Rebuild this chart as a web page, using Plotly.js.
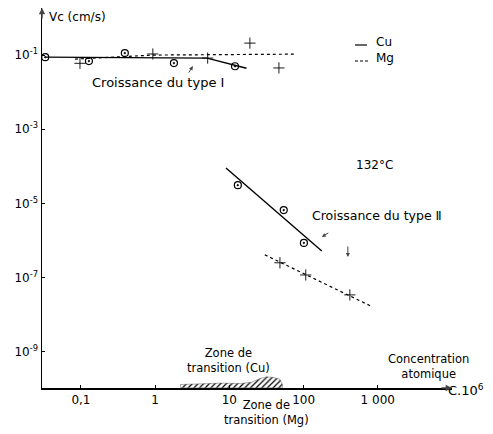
<!DOCTYPE html>
<html>
<head>
<meta charset="utf-8">
<script src="https://cdn.plot.ly/plotly-3.0.1.min.js"></script>
<style>html,body{margin:0;padding:0;background:#fff;}#chart{width:493px;height:434px;}</style>
</head>
<body>
<div id="chart"></div>
<script>
// ---- data ----
// Type I growth, Cu
const cu1X = [0.033, 0.128, 0.39, 1.79, 11.9];
const cu1Y = [0.088, 0.069, 0.113, 0.061, 0.05];
const cu1LineX = [0.033, 5.0, 17];
const cu1LineY = [0.088, 0.083, 0.044];
// Type I growth, Mg
const mg1X = [0.097, 0.93, 5.1, 18.9, 46.5];
const mg1Y = [0.06, 0.107, 0.083, 0.21, 0.045];
const mg1LineX = [0.083, 0.93, 76];
const mg1LineY = [0.078, 0.1, 0.106];
// Type II growth, Cu
const cu2X = [13, 54, 101];
const cu2Y = [3.1e-5, 6.6e-6, 8.6e-7];
const cu2LineX = [9, 176];
const cu2LineY = [9e-5, 5.2e-7];
// Type II growth, Mg
const mg2X = [48, 107, 420];
const mg2Y = [2.5e-7, 1.17e-7, 3.4e-8];
const mg2LineX = [30, 805];
const mg2LineY = [4.1e-7, 1.7e-8];
// Transition zone (Cu) outline
const zoneCuX = [2.2, 4, 8, 14, 20, 26, 32, 40, 48, 52, 52, 2.2, 2.2];
const zoneCuY = [1.3e-10, 1.38e-10, 1.42e-10, 1.38e-10, 1.5e-10, 1.9e-10, 2.1e-10, 2.0e-10, 1.8e-10, 1.3e-10, 1.06e-10, 1.06e-10, 1.3e-10];
// Transition zone (Mg) specks below the axis
const zoneMgX = [26, 28, 31, 55, 62, 70, 85];
const zoneMgY = [8.4e-11, 7.8e-11, 8.2e-11, 8.3e-11, 7.9e-11, 8.4e-11, 8.1e-11];
// tick labels
const xTickVals = [0.1, 1, 10, 100, 1000];
const xTickText = ['0,1', '1', '10', '100', '1 000'];
const yTickVals = [1e-1, 1e-3, 1e-5, 1e-7, 1e-9];
const yTickText = ['10<sup>-1</sup>', '10<sup>-3</sup>', '10<sup>-5</sup>', '10<sup>-7</sup>', '10<sup>-9</sup>'];

const FONT = 'DejaVu Sans, sans-serif';
const solid = {color: 'black', width: 1.4};
const dashed = {color: 'black', width: 1.2, dash: '3px,3px'};
const circ = {symbol: 'circle-open-dot', size: 7, color: 'black', line: {color: 'black', width: 1.2}};
const crs = {symbol: 'cross-thin-open', size: 8, color: 'black', line: {color: 'black', width: 0.9}};

const traces = [
  {x: zoneCuX, y: zoneCuY, mode: 'lines', fill: 'toself', line: {width: 0.4, color: '#444'},
   fillcolor: 'rgba(0,0,0,0)', fillpattern: {shape: '/', size: 4, solidity: 0.3, fgcolor: 'black', bgcolor: 'white'}},
  {x: zoneMgX, y: zoneMgY, mode: 'markers', cliponaxis: false, marker: {size: 2, color: 'black'}},
  {x: cu1LineX, y: cu1LineY, mode: 'lines', line: solid},
  {x: mg1LineX, y: mg1LineY, mode: 'lines', line: dashed},
  {x: cu1X, y: cu1Y, mode: 'markers', marker: circ, cliponaxis: false},
  {x: mg1X, y: mg1Y, mode: 'markers', marker: crs},
  {x: cu2LineX, y: cu2LineY, mode: 'lines', line: solid},
  {x: mg2LineX, y: mg2LineY, mode: 'lines', line: dashed},
  {x: cu2X, y: cu2Y, mode: 'markers', marker: circ},
  {x: mg2X, y: mg2Y, mode: 'markers', marker: crs}
];

function txt(x, y, text, size, extra) {
  return Object.assign({xref: 'paper', yref: 'paper', x: x, y: y, text: text, showarrow: false,
    xanchor: 'center', yanchor: 'middle',
    font: {family: FONT, size: size || 12, color: 'black'}}, extra || {});
}
// paper coordinate helpers from pixel positions (plot area: x 42..452, y 8..388)
const px = v => (v - 42) / 410;
const py = v => (388 - v) / 380;

const annotations = [
  txt(px(47), py(17), 'Vc (cm/s)', 12, {xanchor: 'left'}),
  txt(px(374), py(42), 'Cu', 12, {xanchor: 'left'}),
  txt(px(374), py(58), 'Mg', 12, {xanchor: 'left'}),
  txt(px(158), py(82), 'Croissance du type Ⅰ', 13),
  txt(px(374), py(165), '132°C', 12),
  txt(px(377), py(215), 'Croissance du type Ⅱ', 12.5),
  txt(px(228), py(360), 'Zone de<br>transition (Cu)', 11.5),
  txt(px(266), py(412), 'Zone de<br>transition (Mg)', 11.5),
  txt(px(428), py(366), 'Concentration<br>atomique', 11.5),
  txt(px(446), py(390), 'C.10<sup>6</sup>', 13, {xanchor: 'left'}),
  // small arrows
  {x: Math.log10(3.22), y: Math.log10(0.0506), ax: -5, ay: 8, showarrow: true, arrowhead: 2, arrowsize: 0.8, arrowwidth: 1, standoff: 0, text: ''},
  {x: Math.log10(176), y: Math.log10(1.24e-6), ax: 8, ay: -5, showarrow: true, arrowhead: 2, arrowsize: 0.8, arrowwidth: 1, standoff: 0, text: ''},
  {x: Math.log10(395), y: Math.log10(3.59e-7), ax: 0, ay: -12, showarrow: true, arrowhead: 2, arrowsize: 0.8, arrowwidth: 1, standoff: 0, text: ''},
  // axis arrows
  {xref: 'paper', yref: 'paper', x: 0, y: 1, ax: 0, ay: 12, showarrow: true, arrowhead: 2, arrowsize: 0.9, arrowwidth: 1.4, standoff: 0, text: ''},
  {xref: 'paper', yref: 'paper', x: 1, y: 0, ax: -12, ay: 0, showarrow: true, arrowhead: 2, arrowsize: 0.9, arrowwidth: 1.4, standoff: 0, text: ''}
];

const shapes = [
  {type: 'line', xref: 'paper', yref: 'paper', x0: px(355), x1: px(367), y0: py(45), y1: py(45), line: {color: 'black', width: 1.2}},
  {type: 'line', xref: 'paper', yref: 'paper', x0: px(355), x1: px(370), y0: py(61), y1: py(61), line: {color: 'black', width: 1.2, dash: '3px,2px'}}
];

const layout = {
  width: 493, height: 434,
  margin: {l: 42, r: 41, t: 8, b: 46, pad: 0},
  paper_bgcolor: 'white', plot_bgcolor: 'white',
  showlegend: false,
  font: {family: FONT, size: 12, color: 'black'},
  xaxis: {type: 'log', range: [-1.525, 4.0], showgrid: false, zeroline: false,
    showline: true, linecolor: 'black', linewidth: 1.5, ticks: 'inside', ticklen: 3, tickcolor: 'black',
    tickvals: xTickVals, ticktext: xTickText, tickfont: {family: FONT, size: 12}},
  yaxis: {type: 'log', range: [-9.98, 0.27], showgrid: false, zeroline: false,
    showline: true, linecolor: 'black', linewidth: 1.5, ticks: 'inside', ticklen: 3, tickcolor: 'black',
    tickvals: yTickVals, ticktext: yTickText, tickfont: {family: FONT, size: 12}},
  annotations: annotations,
  shapes: shapes
};

Plotly.newPlot('chart', traces, layout, {displayModeBar: false, staticPlot: true});
</script>
</body>
</html>
